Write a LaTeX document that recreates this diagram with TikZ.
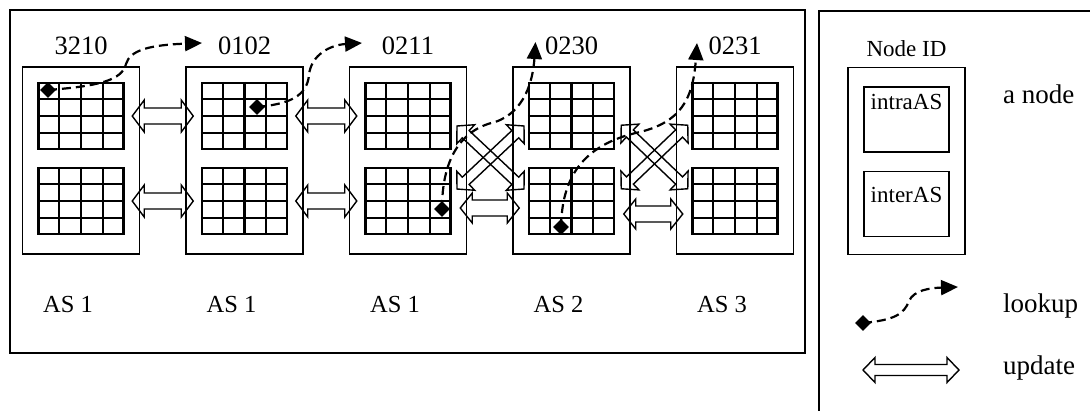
\documentclass[tikz,border=0pt]{standalone}
\usepackage{fontspec}
\setmainfont{Liberation Serif}
\usetikzlibrary{calc,arrows.meta,shapes.geometric}

\tikzset{
  boxline/.style={line width=1.5pt},
  gridline/.style={line width=2.1pt},
  asnode/.style={draw, boxline, minimum width=117pt, minimum height=187pt, inner sep=0pt},
  rtable/.style={draw, gridline, minimum width=85pt, minimum height=66pt, inner sep=0pt},
  legtable/.style={draw, boxline, minimum width=85pt, minimum height=65pt, inner sep=0pt},
  idlabel/.style={inner sep=0pt, font=\fontsize{26.5}{30}\selectfont},
  aslabel/.style={inner sep=0pt, font=\fontsize{24.5}{28}\selectfont},
  smalltext/.style={inner sep=0pt, font=\fontsize{23}{27}\selectfont},
  legtext/.style={inner sep=0pt, anchor=west, font=\fontsize{27}{30}\selectfont},
  lookdot/.style={diamond, fill=black, minimum width=16pt, minimum height=16pt, inner sep=0pt},
  lookline/.style={line width=2.2pt, dash pattern=on 9pt off 5pt,
    -{Triangle[length=17pt,width=15pt]}},
  pics/updarrow/.style n args={3}{code={
    \draw[line width=1.4pt, line join=miter] (-#1,0) -- (-#1+12,#2) -- (-#1+12,#3)
      -- (#1-12,#3) -- (#1-12,#2) -- (#1,0) -- (#1-12,-#2) -- (#1-12,-#3)
      -- (-#1+12,-#3) -- (-#1+12,-#2) -- cycle;}},
}

\begin{document}
\begin{tikzpicture}[x=1pt,y=-1pt]
    \useasboundingbox (0,0) rectangle (1090,410);

    % frames
    \node[draw, boxline, minimum width=795pt, minimum height=343pt, inner sep=0pt] (frame) at (407.5,181.5) {};
    \node[draw, boxline, anchor=north west, minimum width=300pt, minimum height=420pt, inner sep=0pt] (legframe) at (818,10) {};

    % nodes with their two tables
    \foreach \i/\x in {1/81,2/244.5,3/408,4/571.5,5/735} {
      \node[asnode] (n\i) at (\x,160.5) {};
      \node[rtable] (t\i) at (\x,116) {};
      \node[rtable] (b\i) at (\x,201) {};
      \foreach \k in {1,2,3} {
        \draw[gridline] ($(t\i.north west)!\k/4!(t\i.north east)$) -- ($(t\i.south west)!\k/4!(t\i.south east)$);
        \draw[gridline] ($(t\i.north west)!\k/4!(t\i.south west)$) -- ($(t\i.north east)!\k/4!(t\i.south east)$);
        \draw[gridline] ($(b\i.north west)!\k/4!(b\i.north east)$) -- ($(b\i.south west)!\k/4!(b\i.south east)$);
        \draw[gridline] ($(b\i.north west)!\k/4!(b\i.south west)$) -- ($(b\i.north east)!\k/4!(b\i.south east)$);
      }
    }

    \foreach \i/\id in {1/3210,2/0102,3/0211,4/0230,5/0231} {
      \node[idlabel] (id\i) at ($(n\i.north)+(0,-20.5)$) {\id};
    }
    \foreach \i/\as in {1/AS 1,2/AS 1,3/AS 1,4/AS 2,5/AS 3} {
      \node[aslabel] (as\i) at ($(n\i.south)+(-13,50)$) {\as};
    }

    % updates inside an AS
    \foreach \i/\j in {1/2,2/3} {
      \path (t\i.east) -- (t\j.west) pic[midway] {updarrow={30.5}{16}{8}};
      \path (b\i.east) -- (b\j.west) pic[midway] {updarrow={30.5}{16}{8}};
    }

    % updates between ASes
    \coordinate (g34a) at (457,126);
    \coordinate (g34b) at (524,189);
    \coordinate (g34c) at (457,189);
    \coordinate (g34d) at (524,126);
    \coordinate (g45a) at (621,125);
    \coordinate (g45b) at (688,189);
    \coordinate (g45c) at (621,189);
    \coordinate (g45d) at (688,125);
    \path (g34a) -- (g34b) pic[midway, sloped] {updarrow={46}{13}{5}};
    \path (g34c) -- (g34d) pic[midway, sloped] {updarrow={46}{13}{5}};
    \path (g45a) -- (g45b) pic[midway, sloped] {updarrow={46}{13}{5}};
    \path (g45c) -- (g45d) pic[midway, sloped] {updarrow={46}{13}{5}};
    \path ($(b3.east)+(0,7)$) -- ($(b4.west)+(0,7)$) pic[midway] {updarrow={29.5}{15}{8}};
    \path ($(b4.east)+(0,13)$) -- ($(b5.west)+(0,13)$) pic[midway] {updarrow={29.5}{15}{8}};

    % lookups
    \node[lookdot] (d1) at (48,90) {};
    \node[lookdot] (d2) at (257,107) {};
    \node[lookdot] (d3) at (442,209) {};
    \node[lookdot] (d4) at (561,227) {};
    \coordinate (tip1) at (202,43);
    \coordinate (tip2) at (362,43);
    \coordinate (tip3) at (535.5,42);
    \coordinate (tip4) at (697,43);
    \draw[lookline] (d1.center) .. controls (100,86) and (122,80) .. (126,64)
        .. controls (130,50) and (150,45) .. (tip1);
    \draw[lookline] (d2.center) .. controls (290,104) and (307,96) .. (309,75)
        .. controls (311,55) and (330,45) .. (tip2);
    \draw[lookline] (d3.center) .. controls (442,160) and (460,130) .. (495,122)
        .. controls (525,112) and (533,80) .. (tip3);
    \draw[lookline] (d4.center) .. controls (562,180) and (580,145) .. (640,132)
        .. controls (680,122) and (693,100) .. (tip4);

    % legend
    \node[asnode] (leg) at (906.5,161) {};
    \node[legtable] (legintra) at (906.5,119.5) {};
    \node[legtable] (leginter) at (906.5,204) {};
    \node[smalltext] (legid) at ($(leg.north)+(0,-18)$) {Node ID};
    \node[smalltext] (intratxt) at ($(legintra.north)+(0,16)$) {intraAS};
    \node[smalltext] (intertxt) at ($(leginter.north)+(0,24)$) {interAS};
    \node[legtext] (anode) at (1003,94.5) {a node};

    \node[lookdot] (dl) at (863,323) {};
    \coordinate (legtip) at (958,287);
    \draw[lookline] (dl.center) .. controls (895,320) and (904,314) .. (909,301)
        .. controls (914,290) and (930,288) .. (legtip);
    \node[legtext] (looktxt) at (1003,306) {lookup};

    \coordinate (lu1) at (863,370);
    \coordinate (lu2) at (959,370);
    \path (lu1) -- (lu2) pic[midway] {updarrow={48}{12.5}{5.5}};
    \node[legtext] (updtxt) at (1003,368) {update};
\end{tikzpicture}
\end{document}
